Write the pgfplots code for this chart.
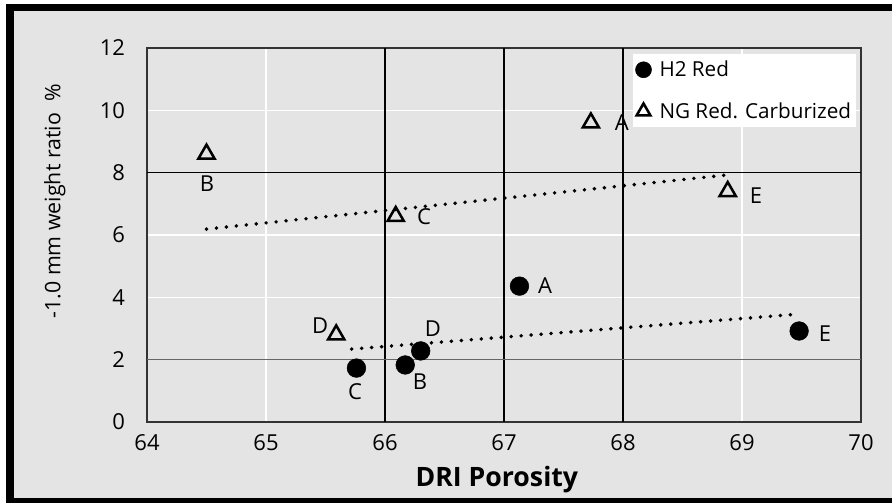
\documentclass[border=0pt]{standalone}
\usepackage{pgfplots}
\pgfplotsset{compat=1.18}
\usetikzlibrary{backgrounds}
\usepackage{fontspec}
\setmainfont{Open Sans}
\definecolor{bg}{RGB}{228,228,228}
\begin{document}
\begin{tikzpicture}
\begin{axis}[
  at={(0pt,0pt)}, anchor=south west,
  scale only axis, width=535.5pt, height=280.5pt,
  xmin=64, xmax=70, ymin=0, ymax=12,
  xtick={64,65,...,70}, ytick={0,2,...,12},
  major tick length=0pt,
  axis line style={draw=black!80, line width=1.4pt},
  grid=major, major grid style={white, line width=1.1pt},
  tick label style={font=\fontsize{16.5}{18}\selectfont, /pgf/number format/assume math mode=true},
  xticklabel style={yshift=-6pt},
  yticklabel style={xshift=-13pt},
  xlabel={\bfseries DRI Porosity},
  xlabel style={font=\fontsize{20}{22}\selectfont, at={(rel axis cs:0.49,-0.155)}, anchor=center},
  ylabel={-1.0 mm weight ratio~~\%},
  ylabel style={font=\fontsize{16}{18}\selectfont, at={(rel axis cs:-0.129,0.59)}, anchor=center, rotate=0},
  legend style={at={(rel axis cs:0.994,0.984)}, anchor=north east, draw=none, fill=white,
    font=\fontsize{15.5}{18}\selectfont, row sep=14pt, inner xsep=2pt, inner ysep=3pt},
  legend cell align=left,
  legend image code/.code={\draw[#1, mark size=6pt] plot coordinates {(0cm,0cm)};},
  clip=false,
]
\draw[black, line width=1.1pt] (axis cs:66,0) -- (axis cs:66,12);
\draw[black, line width=1.1pt] (axis cs:67,0) -- (axis cs:67,12);
\draw[black, line width=1.1pt] (axis cs:68,0) -- (axis cs:68,12);
\draw[black, line width=1.2pt] (axis cs:64,8) -- (axis cs:70,8);
\draw[black!60, line width=0.7pt] (axis cs:64,2) -- (axis cs:70,2);

\addplot[only marks, mark=*, mark size=7pt, black] coordinates {
(67.13,4.36) (66.17,1.83) (65.76,1.73) (66.30,2.28) (69.48,2.92)};
\addlegendentry{\hspace{4pt}H2 Red}
\addplot[only marks, mark=triangle, mark size=7pt, black, line width=1.9pt] coordinates {
(67.73,9.6) (64.50,8.6) (66.09,6.6) (65.59,2.8) (68.88,7.4)};
\addlegendentry{\hspace{4pt}NG Red. Carburized}

\addplot[forget plot, black, line width=2.9pt, line cap=round, dash pattern=on 0pt off 7.5pt] coordinates {(64.50,6.19) (68.86,7.92)};
\addplot[forget plot, black, line width=2.9pt, line cap=round, dash pattern=on 0pt off 7.5pt] coordinates {(65.72,2.34) (69.47,3.46)};

\begin{scope}[every node/.style={font=\fontsize{16.5}{18}\selectfont, inner sep=0pt}]
\node at (axis cs:67.345,4.39) {A};
\node at (axis cs:66.294,1.31) {B};
\node at (axis cs:65.748,0.96) {C};
\node at (axis cs:66.403,2.98) {D};
\node at (axis cs:69.697,2.84) {E};
\node at (axis cs:67.99,9.6) {A};
\node at (axis cs:64.504,7.64) {B};
\node at (axis cs:66.328,6.6) {C};
\node at (axis cs:65.454,3.08) {D};
\node at (axis cs:69.118,7.25) {E};
\end{scope}
\end{axis}
\begin{scope}[on background layer]
\fill[white] (-110.25pt,-60.75pt) rectangle (558.75pt,316.5pt);
\fill[bg] (-105.75pt,-60.75pt) rectangle (558.75pt,313.5pt);
\fill[black] (-105.75pt,-60.75pt) rectangle (-99.75pt,313.5pt);
\fill[black] (-105.75pt,308.25pt) rectangle (558.75pt,313.5pt);
\fill[black] (-105.75pt,-60.75pt) rectangle (558.75pt,-57pt);
\end{scope}
\end{tikzpicture}
\end{document}
